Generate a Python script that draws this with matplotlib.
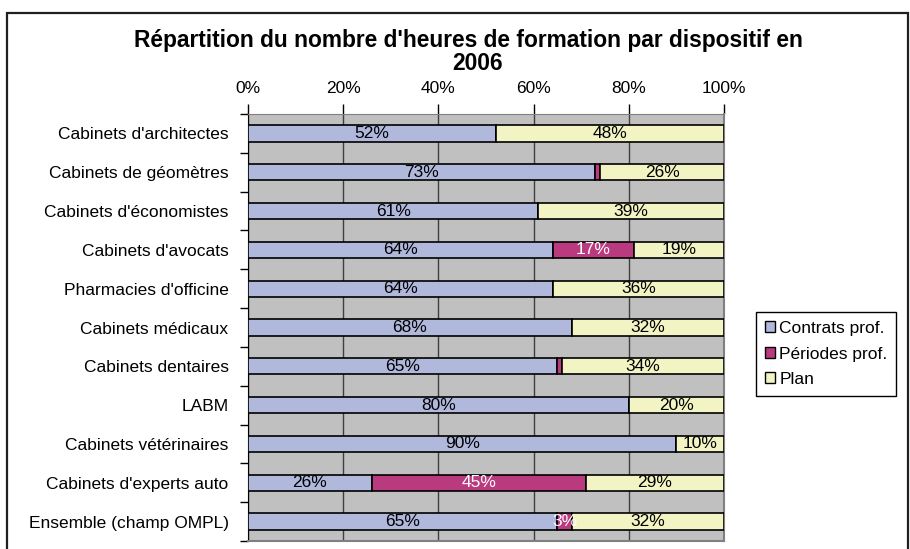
import matplotlib.pyplot as plt
import numpy as np
from matplotlib.patches import Patch, Rectangle

plt.rcParams['font.family'] = ['Liberation Sans', 'DejaVu Sans']

categories = ["Cabinets d'architectes", "Cabinets de géomètres", "Cabinets d'économistes",
              "Cabinets d'avocats", "Pharmacies d'officine", "Cabinets médicaux",
              "Cabinets dentaires", "LABM", "Cabinets vétérinaires",
              "Cabinets d'experts auto", "Ensemble (champ OMPL)"]
contrats = [52, 73, 61, 64, 64, 68, 65, 80, 90, 26, 65]
periodes = [0, 1, 0, 17, 0, 0, 1, 0, 0, 45, 3]
plan = [48, 26, 39, 19, 36, 32, 34, 20, 10, 29, 32]

series = [("Contrats prof.", contrats, '#B0B8DC', 'black'),
          ("Périodes prof.", periodes, '#BA3A80', 'white'),
          ("Plan", plan, '#F2F4C4', 'black')]

fs = 12.5

fig = plt.figure(figsize=(9.1, 5.49), dpi=100)
ax = fig.add_axes([248/910, 1 - 541/549, 476/910, 427/549])
ax.set_facecolor('#C0C0C0')

y = np.arange(len(categories))
left = np.zeros(len(categories))
for name, vals, color, txtcol in series:
    vals = np.array(vals, dtype=float)
    ax.barh(y, vals, left=left, height=0.42, color=color, edgecolor='black',
            linewidth=1.2, zorder=3, label=name)
    # percentage labels, skipped on the 1% slivers
    for yi, l, v in zip(y, left, vals):
        if v > 1:
            ax.text(l + v / 2, yi, f"{v:.0f}%", ha='center', va='center',
                    fontsize=fs, color=txtcol, zorder=4)
    left += vals

ax.set_xlim(0, 100)
ax.set_ylim(len(categories) - 0.5, -0.5)
ax.xaxis.tick_top()
ax.set_xticks(np.arange(0, 101, 20))
ax.set_xticklabels([f"{t}%" for t in range(0, 101, 20)], fontsize=fs)
ax.tick_params(axis='x', length=7, width=1, pad=6, color='black')
ax.set_yticks(y)
ax.set_yticklabels(categories, fontsize=fs)
ax.set_yticks(np.arange(-0.5, len(categories)), minor=True)
ax.tick_params(axis='y', which='major', length=0, pad=14)
ax.tick_params(axis='y', which='minor', length=6, width=1, color='black')
ax.grid(axis='x', color='#404040', linewidth=1, zorder=0)
ax.set_axisbelow(True)

for side in ['right', 'bottom']:
    ax.spines[side].set_color('#808080')
    ax.spines[side].set_linewidth(1.5)
ax.spines['left'].set_color('black')
ax.spines['top'].set_color('#808080')

fig.text(468/910, 1 - 40/549, "Répartition du nombre d'heures de formation par dispositif en",
         ha='center', va='center', fontsize=16.4, fontweight='bold')
fig.text(478/910, 1 - 63/549, "2006", ha='center', va='center',
         fontsize=16.4, fontweight='bold')

handles = [Patch(facecolor=c, edgecolor='black', linewidth=1) for _, _, c, _ in series]
leg = fig.legend(handles, [s[0] for s in series], loc='center left',
                 bbox_to_anchor=(756/910, 1 - 354/549), fontsize=fs,
                 handlelength=0.6, handleheight=0.6, handletextpad=0.25,
                 labelspacing=0.6, borderpad=0.5, borderaxespad=0,
                 fancybox=False, framealpha=1)
leg.get_frame().set_edgecolor('black')
leg.get_frame().set_linewidth(1)

# chart frame, open at the bottom edge
fig.patches.append(Rectangle((7/910, -0.1), 901/910, 1.1 - 13/549, transform=fig.transFigure,
                             fill=False, edgecolor='#202020', linewidth=1.6))

fig.savefig('out.png', dpi=100)
